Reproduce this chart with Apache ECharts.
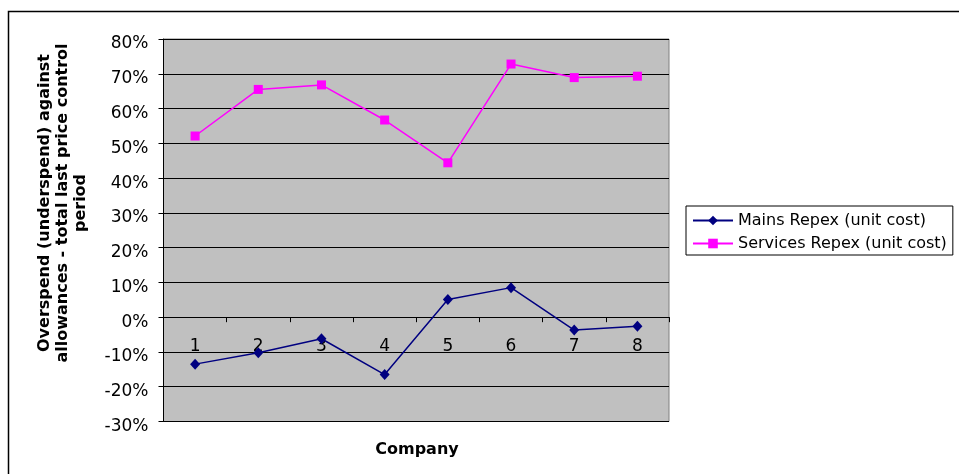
<!DOCTYPE html>
<html>
<head>
<meta charset="utf-8">
<script src="https://cdn.jsdelivr.net/npm/echarts@6/dist/echarts.min.js"></script>
<style>
  html, body { margin: 0; padding: 0; background: #ffffff; }
  #chart { width: 959px; height: 474px; }
</style>
</head>
<body>
<div id="chart"></div>
<script>
// Companies on the category axis
const companies = ['1', '2', '3', '4', '5', '6', '7', '8'];

// Overspend (underspend) against allowances, in percent
const mainsRepex = [-13.5, -10.2, -6.2, -16.5, 5.1, 8.5, -3.7, -2.6];
const servicesRepex = [52.1, 65.5, 66.8, 56.7, 44.4, 72.8, 68.9, 69.3];

// Value axis range and step, in percent
const yMin = -30;
const yMax = 80;
const yStep = 10;

const seriesNames = ['Mains Repex (unit cost)', 'Services Repex (unit cost)'];
const yTitle = 'Overspend (underspend) against\nallowances - total last price control\nperiod';
const xTitle = 'Company';

const FONT = 'DejaVu Sans, Verdana, sans-serif';

// Plot box
const gridTop = 39;
const gridBottom = 52.5;
const chartHeight = 474;
const plotHeight = chartHeight - gridTop - gridBottom;
// Lift the category axis from the bottom edge up to the zero line
const zeroLift = -(0 - yMin) / (yMax - yMin) * plotHeight;

const chart = echarts.init(document.getElementById('chart'), null, { renderer: 'canvas' });

chart.setOption({
  backgroundColor: '#ffffff',
  animation: false,
  grid: {
    left: 163.5,
    right: 290,
    top: gridTop,
    bottom: gridBottom,
    show: true,
    backgroundColor: '#C0C0C0',
    borderColor: '#808080',
    borderWidth: 1
  },
  legend: {
    orient: 'vertical',
    left: 686,
    top: 206,
    padding: [5, 6, 2, 6],
    itemGap: 4,
    itemWidth: 40,
    itemHeight: 12,
    backgroundColor: '#ffffff',
    borderColor: '#000000',
    borderWidth: 1,
    borderRadius: 0,
    textStyle: { fontFamily: FONT, fontSize: 16, color: '#000000', lineHeight: 19 },
    data: seriesNames
  },
  xAxis: {
    type: 'category',
    data: companies,
    boundaryGap: true,
    offset: zeroLift,
    axisLine: { onZero: false, lineStyle: { color: '#000000', width: 1 } },
    axisTick: { show: true, inside: false, length: 5, lineStyle: { color: '#000000' } },
    axisLabel: { fontFamily: FONT, fontSize: 17, color: '#000000', margin: 21 },
    splitLine: { show: false }
  },
  yAxis: {
    type: 'value',
    min: yMin,
    max: yMax,
    interval: yStep,
    axisLine: { show: true, lineStyle: { color: '#000000', width: 1 } },
    axisTick: { show: true, inside: false, length: 5, lineStyle: { color: '#000000' } },
    axisLabel: {
      fontFamily: FONT, fontSize: 17, color: '#000000', margin: 15,
      verticalAlign: 'top',
      lineHeight: 10,
      formatter: '{value}%'
    },
    splitLine: { show: true, lineStyle: { color: '#000000', width: 1 } }
  },
  series: [
    {
      name: seriesNames[0],
      type: 'line',
      data: mainsRepex,
      color: '#000080',
      symbol: 'diamond',
      symbolSize: [10, 11],
      lineStyle: { color: '#000080', width: 1.5 },
      itemStyle: { color: '#000080' },
      z: 3
    },
    {
      name: seriesNames[1],
      type: 'line',
      data: servicesRepex,
      color: '#FF00FF',
      symbol: 'rect',
      symbolSize: 9,
      lineStyle: { color: '#FF00FF', width: 1.5 },
      itemStyle: { color: '#FF00FF' },
      z: 3
    }
  ],
  graphic: [
    {
      type: 'rect',
      silent: true,
      z: -1,
      shape: { x: 8.5, y: 11.5, width: 1000, height: 500 },
      style: { fill: 'none', stroke: '#000000', lineWidth: 1.5 }
    },
    {
      type: 'text',
      x: 63,
      y: 203,
      rotation: Math.PI / 2,
      style: {
        text: yTitle,
        fontFamily: FONT,
        fontWeight: 'bold',
        fontSize: 16,
        lineHeight: 18,
        fill: '#000000',
        align: 'center',
        verticalAlign: 'middle'
      }
    },
    {
      type: 'text',
      x: 417,
      y: 450,
      style: {
        text: xTitle,
        fontFamily: FONT,
        fontWeight: 'bold',
        fontSize: 16,
        fill: '#000000',
        align: 'center',
        verticalAlign: 'middle'
      }
    }
  ]
});
</script>
</body>
</html>
